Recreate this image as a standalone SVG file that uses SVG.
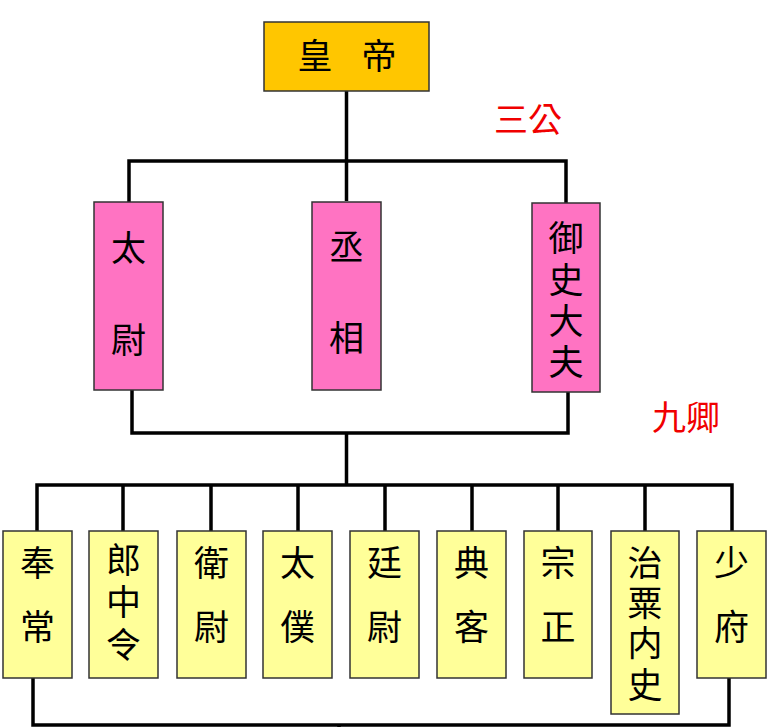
<svg xmlns="http://www.w3.org/2000/svg" width="769" height="727" viewBox="0 0 769 727">
<style>
.box{stroke:#333;stroke-width:1.5}
.emp{fill:#FFC600}
.gong{fill:#FF73C2}
.qing{fill:#FFFF99}
.t{font-family:"Liberation Sans","Noto Sans CJK TC","Noto Sans CJK SC",sans-serif;font-size:35px;fill:#000;text-anchor:middle;dominant-baseline:central}
.lbl{font-family:"Liberation Sans","Noto Sans CJK TC","Noto Sans CJK SC",sans-serif;font-size:34px;fill:#F00000;text-anchor:middle;dominant-baseline:central}
.c{fill:none;stroke:#000;stroke-width:3.5}
</style>
<rect width="769" height="727" fill="#fff"/>
<g id="connectors">
<path class="c" d="M346.5,91 V201 M129,202 V161 H566 V203"/>
<path class="c" d="M132,390 V433 H568 V392 M346.5,433 V485"/>
<path class="c" d="M37,531 V485 H732 V531 M123,485 V531 M211,485 V531 M298,485 V531 M385,485 V531 M472,485 V531 M558,485 V531 M645,485 V531"/>
<path class="c" d="M33,678 V725 H729 V678 M339,725 V727"/>
</g>
<g id="emperor"><rect class="box emp" x="264" y="22" width="165" height="69"/><text class="t" x="315" y="56">皇</text><text class="t" x="379" y="56">帝</text></g>
<text class="lbl" x="528" y="120">三公</text>
<text class="lbl" x="686" y="418">九卿</text>
<g id="taiwei"><rect class="box gong" x="94" y="202" width="69" height="188"/><text class="t" x="128.5" y="248">太</text><text class="t" x="128.5" y="340">尉</text></g>
<g id="chengxiang"><rect class="box gong" x="312" y="202" width="69" height="188"/><text class="t" x="346.5" y="247">丞</text><text class="t" x="346.5" y="338">相</text></g>
<g id="yushidafu"><rect class="box gong" x="532" y="203" width="68" height="189"/><text class="t" x="566" y="238">御</text><text class="t" x="566" y="280">史</text><text class="t" x="566" y="321">大</text><text class="t" x="566" y="362">夫</text></g>
<g id="fengchang"><rect class="box qing" x="3" y="531" width="69" height="147"/><text class="t" x="37.5" y="563">奉</text><text class="t" x="37.5" y="627">常</text></g>
<g id="langzhongling"><rect class="box qing" x="89" y="531" width="69" height="147"/><text class="t" x="123.5" y="560">郎</text><text class="t" x="123.5" y="602">中</text><text class="t" x="123.5" y="645">令</text></g>
<g id="weiwei"><rect class="box qing" x="177" y="531" width="69" height="147"/><text class="t" x="211.5" y="563">衛</text><text class="t" x="211.5" y="627">尉</text></g>
<g id="taipu"><rect class="box qing" x="263" y="531" width="69" height="147"/><text class="t" x="297.5" y="563">太</text><text class="t" x="297.5" y="627">僕</text></g>
<g id="tingwei"><rect class="box qing" x="350" y="531" width="69" height="147"/><text class="t" x="384.5" y="563">廷</text><text class="t" x="384.5" y="627">尉</text></g>
<g id="dianke"><rect class="box qing" x="437" y="531" width="69" height="147"/><text class="t" x="471.5" y="563">典</text><text class="t" x="471.5" y="627">客</text></g>
<g id="zongzheng"><rect class="box qing" x="524" y="531" width="68" height="147"/><text class="t" x="558" y="563">宗</text><text class="t" x="558" y="627">正</text></g>
<g id="zhisuneishi"><rect class="box qing" x="611" y="531" width="68" height="183"/><text class="t" x="645" y="563">治</text><text class="t" x="645" y="603">粟</text><text class="t" x="645" y="643">内</text><text class="t" x="645" y="685">史</text></g>
<g id="shaofu"><rect class="box qing" x="697" y="531" width="69" height="147"/><text class="t" x="731.5" y="563">少</text><text class="t" x="731.5" y="627">府</text></g>
</svg>
